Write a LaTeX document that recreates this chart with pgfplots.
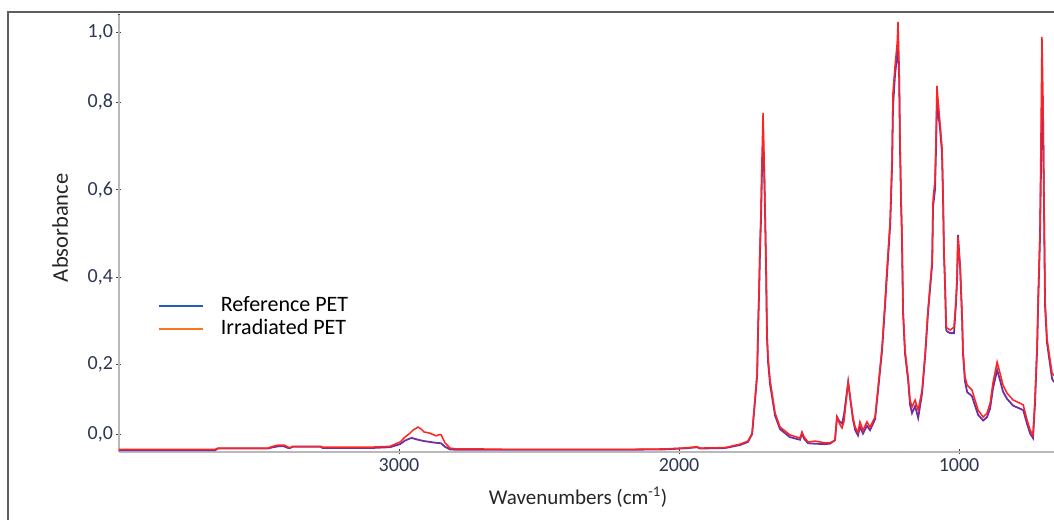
\documentclass[border=0pt]{standalone}
\usepackage{fontspec}
\setmainfont{Carlito}
\usepackage{pgfplots}
\pgfplotsset{compat=1.18}
\definecolor{refpur}{RGB}{112,48,160}
\definecolor{irrred}{RGB}{255,35,35}
\definecolor{legblue}{RGB}{31,95,192}
\definecolor{legorange}{RGB}{245,120,32}
\definecolor{ticktxt}{RGB}{45,55,80}
\definecolor{axgray}{RGB}{185,185,185}
\definecolor{framegray}{RGB}{95,95,95}

\begin{document}
\begin{tikzpicture}
\useasboundingbox (0,0) rectangle (1054pt,519pt);
% outer frame (top and left only, the rest is cut off)
\draw[framegray,line width=1.6pt] (8pt,-2pt) -- (8pt,507pt) -- (1060pt,507pt);
\begin{axis}[at={(119pt,67pt)},anchor=south west,scale only axis,
  width=935pt,height=437pt,
  x dir=reverse,xmin=661,xmax=4000,ymin=0,ymax=1,
  axis x line=bottom,axis y line=left,
  axis line style={-,axgray,line width=2.6pt},
  xtick={1000,2000,3000},minor x tick num=4,
  ytick={0.04,0.2,0.4,0.6,0.8,0.96},
  yticklabels={{0,0},{0,2},{0,4},{0,6},{0,8},{1,0}},
  minor ytick={0,0.04,...,1.001},
  tick align=center,major tick length=5pt,minor tick length=2.5pt,
  every tick/.style={black!75,line width=1pt},
  /pgf/number format/1000 sep={},
  /pgf/number format/assume math mode=true,
  tick label style={font=\fontsize{20}{24}\selectfont,text=ticktxt},
  xlabel={Wavenumbers (cm\textsuperscript{-1})},
  ylabel={Absorbance},
  xlabel style={font=\fontsize{21}{25}\selectfont,text=black!85,
    at={(axis description cs:0.491,-0.103)},anchor=center},
  ylabel style={font=\fontsize{22.5}{26}\selectfont,text=black!85,
    at={(axis description cs:-0.063,0.513)},anchor=center},
  legend style={draw=none,fill=none,at={(axis description cs:0.0417,0.357)},
    anchor=north west,font=\fontsize{22}{26}\selectfont,row sep=3pt,
    inner sep=0pt,nodes={inner sep=0pt,text height=15pt,text depth=5pt},
    /tikz/every odd column/.append style={column sep=16pt}},
  legend image code/.code={\draw[#1] (0pt,0pt) -- (44pt,0pt);},
  legend cell align=left]

\addlegendimage{legblue,line width=2.6pt}
\addlegendentry{Reference PET}
\addlegendimage{legorange,line width=2.6pt}
\addlegendentry{Irradiated PET}

% reference PET
\addplot[refpur,line width=1.8pt,forget plot] coordinates {
(4000,0.004)(3657,0.004)(3646,0.008)(3468,0.008)(3450,0.011)(3430,0.013)(3411,0.013)
(3395,0.009)(3389,0.009)(3380,0.012)(3280,0.012)(3272,0.009)(3104,0.009)(3032,0.011)
(2996,0.018)(2979,0.026)(2961,0.031)(2954,0.032)(2932,0.028)(2911,0.025)(2889,0.023)
(2868,0.021)(2850,0.020)(2836,0.012)(2818,0.006)(2793,0.005)(2711,0.005)(2600,0.005)
(2400,0.005)(2200,0.005)(2050,0.006)(1990,0.008)(1950,0.010)(1936,0.011)(1925,0.008)
(1836,0.009)(1782,0.016)(1754,0.023)(1739,0.041)(1729,0.115)(1721,0.176)(1718,0.272)
(1714,0.37)(1711,0.455)(1707,0.54)(1704,0.64)(1700,0.705)(1697,0.67)(1693,0.55)
(1689,0.41)(1686,0.265)(1682,0.205)(1675,0.155)(1657,0.083)(1639,0.052)(1604,0.034)
(1568,0.028)(1561,0.042)(1553,0.030)(1539,0.020)(1514,0.019)(1479,0.018)(1461,0.019)
(1443,0.027)(1436,0.08)(1427,0.07)(1418,0.065)(1411,0.085)(1396,0.160)(1389,0.124)
(1379,0.075)(1371,0.050)(1361,0.038)(1354,0.058)(1343,0.042)(1329,0.060)(1318,0.050)
(1300,0.075)(1289,0.143)(1275,0.232)(1264,0.338)(1257,0.41)(1246,0.52)(1239,0.66)
(1236,0.79)(1229,0.86)(1221,0.91)(1218,0.925)(1214,0.86)(1211,0.70)(1207,0.565)
(1204,0.49)(1200,0.318)(1193,0.225)(1182,0.165)(1175,0.108)(1168,0.089)(1157,0.105)
(1146,0.078)(1132,0.135)(1121,0.22)(1111,0.318)(1096,0.43)(1093,0.56)(1086,0.60)
(1082,0.70)(1079,0.80)(1075,0.78)(1068,0.74)(1061,0.685)(1057,0.575)(1054,0.455)
(1050,0.38)(1046,0.28)(1043,0.276)(1032,0.272)(1018,0.272)(1011,0.34)(1007,0.395)
(1004,0.497)(996,0.42)(989,0.30)(986,0.225)(979,0.162)(971,0.137)(954,0.128)
(943,0.106)(932,0.085)(914,0.072)(900,0.080)(889,0.100)(879,0.145)(864,0.188)
(854,0.165)(843,0.138)(829,0.122)(807,0.106)(771,0.096)(757,0.064)(746,0.042)
(736,0.032)(729,0.11)(721,0.24)(718,0.33)(711,0.49)(704,0.80)(700,0.76)(697,0.58)
(693,0.335)(686,0.25)(675,0.200)(668,0.168)(661,0.160)};

% irradiated PET
\addplot[irrred,line width=1.5pt,forget plot] coordinates {
(4000,0.006)(3657,0.006)(3646,0.009)(3468,0.009)(3450,0.013)(3430,0.016)(3411,0.016)
(3395,0.011)(3389,0.010)(3380,0.013)(3280,0.013)(3272,0.011)(3104,0.011)(3032,0.013)
(2996,0.023)(2979,0.034)(2961,0.043)(2950,0.050)(2932,0.057)(2920,0.052)(2911,0.046)
(2889,0.043)(2868,0.037)(2855,0.040)(2850,0.040)(2836,0.021)(2818,0.009)(2793,0.007)
(2711,0.007)(2600,0.006)(2400,0.006)(2200,0.006)(2050,0.007)(1990,0.009)(1950,0.011)
(1936,0.012)(1925,0.009)(1836,0.010)(1782,0.018)(1754,0.025)(1739,0.043)(1729,0.119)
(1721,0.181)(1718,0.279)(1714,0.378)(1711,0.469)(1707,0.561)(1704,0.668)(1700,0.776)
(1697,0.70)(1693,0.565)(1689,0.423)(1686,0.272)(1682,0.217)(1675,0.165)(1657,0.089)
(1639,0.057)(1604,0.039)(1568,0.032)(1561,0.046)(1553,0.034)(1539,0.023)(1514,0.025)
(1479,0.021)(1461,0.021)(1443,0.027)(1436,0.080)(1427,0.065)(1418,0.055)(1411,0.070)
(1396,0.160)(1389,0.126)(1379,0.080)(1371,0.057)(1361,0.045)(1354,0.069)(1343,0.050)
(1329,0.069)(1318,0.057)(1300,0.080)(1289,0.149)(1275,0.240)(1264,0.348)(1257,0.423)
(1246,0.531)(1239,0.675)(1236,0.822)(1229,0.881)(1221,0.936)(1218,0.984)(1214,0.881)
(1211,0.721)(1207,0.577)(1204,0.501)(1200,0.325)(1193,0.233)(1182,0.172)(1175,0.119)
(1168,0.103)(1157,0.119)(1146,0.096)(1132,0.142)(1121,0.227)(1111,0.325)(1096,0.439)
(1093,0.577)(1086,0.622)(1082,0.730)(1079,0.838)(1075,0.805)(1068,0.753)(1061,0.698)
(1057,0.584)(1054,0.462)(1050,0.387)(1046,0.286)(1043,0.284)(1032,0.279)(1018,0.286)
(1011,0.348)(1007,0.400)(1004,0.492)(996,0.423)(989,0.309)(986,0.233)(979,0.172)
(971,0.153)(954,0.142)(943,0.119)(932,0.096)(914,0.080)(900,0.089)(889,0.112)
(879,0.158)(864,0.206)(854,0.181)(843,0.153)(829,0.135)(807,0.119)(771,0.108)
(757,0.073)(746,0.050)(736,0.039)(729,0.119)(721,0.249)(718,0.341)(711,0.501)
(704,0.950)(700,0.805)(697,0.600)(693,0.348)(686,0.26)(675,0.211)(668,0.181)(661,0.175)};
\end{axis}
\end{tikzpicture}
\end{document}
